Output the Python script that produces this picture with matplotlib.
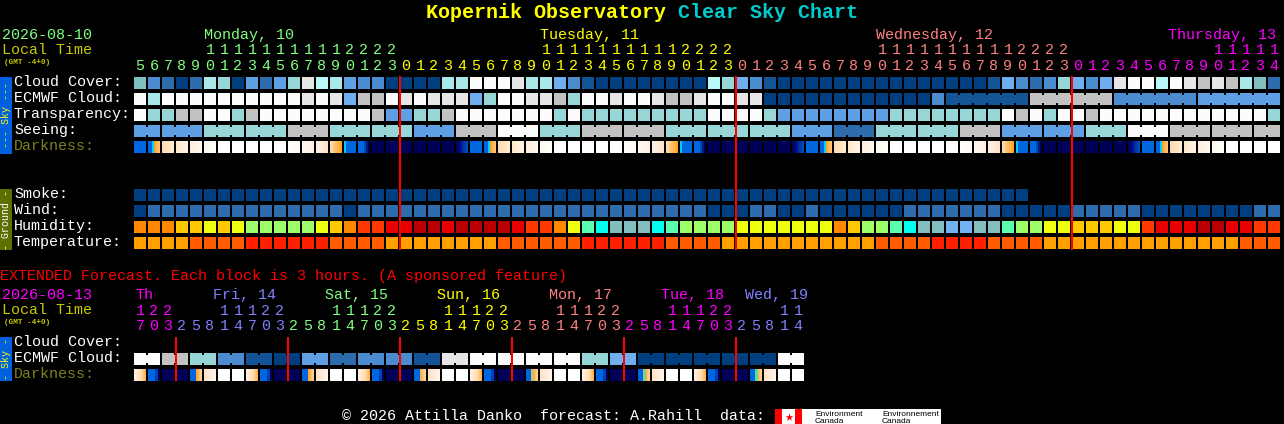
import numpy as np
import matplotlib
matplotlib.use("Agg")
import matplotlib.pyplot as plt
from matplotlib.colors import to_rgb

W, H = 1284, 424
FONT = "Liberation Mono"

# ---------- data ----------
start_hour = 5
n_cols = 82
hours = [(start_hour + i) % 24 for i in range(n_cols)]
day_names = ["Monday, 10", "Tuesday, 11", "Wednesday, 12", "Thursday, 13"]
cloud_cover = "MDCACHGAECEGKIHEDDA" + "AAAHHLLLKHHFDBAAAAAAAAIG" + "FDBAAAAAAAAAAAAAAABFDCDG" + "FDFKLLILKJKJHMC"
ecmwf_cloud = ("LHLLLLLLLLLLKLKFJJLKLKKKFGLLKKJGLLKLLKJJKLLKK" + "AAAAAAAAAAAA" + "D" + "BBBBBB" + "JJJJJJ"
               + "DDDDDD" + "EEEEEE")
transparency = ("LGGJJLLGJLLLLLLLLJEEGGJLLLLLLLGLGGGGGGGGGLLLLG" + "EEEEEEEE" + "GGGGGGGG" + "LJLGLLJ"
                + "LLLLLLLLLLLLG")
seeing_groups = [(2, "E"), (3, "E"), (3, "G"), (3, "G"), (3, "J"), (3, "G"), (3, "G"), (3, "E"), (3, "J"), (3, "L"),
                 (3, "G"), (3, "J"), (3, "J"), (3, "G"), (3, "G"), (3, "G"), (3, "E"), (3, "C"), (3, "G"), (3, "G"),
                 (3, "J"), (3, "E"), (3, "E"), (3, "G"), (3, "L"), (3, "J"), (3, "J"), (2, "J")]
darkness = ("Bc1234WWWWW5678df" + "NNNNNN" + "aBc1234" + "WWWWW5678df" + "NNNNNN" + "aBc1234" + "WWWWW5678df"
            + "NNNNNN" + "aBc1234" + "WWWW")
ecmwf_runs = [(58, 64), (64, 70), (70, 76), (76, 82)]
smoke = "A" * 64
wind = "A" + "C" * 14 + "A" + "C" * 25 + "AAA" + "CC" + "AA" + "C" + "A" * 6 + "C" * 7 + "A" * 5 + "C" * 5 + "A" * 8 + "CC"
humidity = ("OOOYYLYL" + "GGGGG" + "LYORREE" + "DD" + "E" + "DDDD" + "E" + "RR" + "OLMC" + "TTT" + "CM" + "GGGG"
            + "LLLLLLL" + "OY" + "GGMC" + "TTBBTT" + "MGG" + "LL" + "YYY" + "LL" + "REEE" + "DD" + "EE" + "RR")
temperature = ("AAAA" + "BBBB" + "CCCCCC" + "BBBB" + "AAAAAAAA" + "BBBBBB" + "CCCCCC" + "BBBB" + "AAAAAAAAAAA"
               + "BBBB" + "CCCC" + "BBBB" + "AAAAAAAAAAAAAA" + "BBB")
for _s in (cloud_cover, ecmwf_cloud, transparency, darkness, wind, humidity, temperature):
    assert len(_s) == n_cols, (_s, len(_s))

ext_hours = [(17 + 3 * i) % 24 for i in range(48)]
ext_day_names = ["Th", "Fri, 14", "Sat, 15", "Sun, 16", "Mon, 17", "Tue, 18", "Wed, 19"]
ext_cloud_pairs = "LJGDBAECDDBKLLLLGFAAAAAL"
ext_darkness = ("EFNNMGWW" + "EFNNMGWW" + "EFNNKGWW" + "EFNNQGWW" + "EFNNUGWW" + "EFNNVGWW")

# ---------- styles ----------
BG = "#000000"
SKY = {"A": "#003F7F", "B": "#135496", "C": "#2C6CAC", "D": "#4B8BD0", "E": "#5F9FE3", "F": "#6FAFEF",
       "G": "#96D6D6", "H": "#A8E8E8", "I": "#B8F8F8", "J": "#C2C2C2", "K": "#E6E6E6", "L": "#FCFCFC",
       "M": "#7FBFBF"}
HUM = {"O": "#FF8800", "Y": "#FFC800", "L": "#EEFF10", "G": "#9CFF6A", "M": "#5CFFB0", "C": "#00FFEE",
       "T": "#82BEBE", "B": "#72B2F2", "R": "#FF3800", "E": "#E80000", "D": "#B80000"}
TEMP = {"A": "#FFA000", "B": "#FF5C00", "C": "#FF2000"}
DAY_COL = ["#80FF80", "#FFFF00", "#FF8080", "#FF00FF", "#8080FF"]
BLUE = "#0066E0"
NAVY = "#000058"
# darkness gradient stops (position 0..1 in a block, colour); doubled positions are hard edges
DARK = {
    "N": [(0, NAVY), (1, NAVY)],
    "W": [(0, "#FFFFFF"), (1, "#FFFFFF")],
    "B": [(0, BLUE), (1, BLUE)],
    "a": [(0, NAVY), (.33, "#000880"), (.6, "#0030A0"), (1, "#0050C8")],
    "c": [(0, BLUE), (.33, BLUE), (.33, "#00CCFF"), (.5, "#00CCFF"), (.5, "#FFA020"), (1, "#FFC880")],
    "1": [(0, "#FFD8A8"), (1, "#FFEFD8")],
    "2": [(0, "#FFE8CC"), (1, "#FFF6EC")],
    "3": [(0, "#FFEEDD"), (1, "#FFF9F2")],
    "4": [(0, "#FFF6EE"), (1, "#FFFFFF")],
    "5": [(0, "#FFFEFC"), (1, "#FFF8F0")],
    "6": [(0, "#FFF8F0"), (1, "#FFF0E4")],
    "7": [(0, "#FFF0E4"), (1, "#FFE2C4")],
    "8": [(0, "#FFDDB0"), (1, "#FFA020")],
    "d": [(0, "#00CCFF"), (.17, "#00CCFF"), (.17, BLUE), (1, BLUE)],
    "f": [(0, BLUE), (.5, BLUE), (.5, "#0044B0"), (.67, "#0044B0"), (.67, "#002080"), (.83, "#002080"),
          (.83, "#000060"), (1, "#000060")],
    "E": [(0, "#FFF2E4"), (.6, "#FFDDB4"), (1, "#FFB040")],
    "F": [(0, BLUE), (.6, BLUE), (.6, "#0040B0"), (.8, "#0040B0"), (.8, "#000060"), (1, "#000060")],
    "G": [(0, "#FFE0C0"), (1, "#FFF6EE")],
    "M": [(0, BLUE), (.5, BLUE), (.5, "#FFA020"), (1, "#FFD8A8")],
    "K": [(0, BLUE), (.5, BLUE), (.5, "#F0B040"), (1, "#FFD8A8")],
    "Q": [(0, BLUE), (.42, BLUE), (.42, "#D0C060"), (.67, "#D0C060"), (.67, "#FFB040"), (1, "#FFD8A8")],
    "U": [(0, BLUE), (.42, BLUE), (.42, "#80D090"), (.67, "#80D090"), (.67, "#FFB040"), (1, "#FFD8A8")],
    "V": [(0, BLUE), (.42, BLUE), (.42, "#50E0A0"), (.67, "#50E0A0"), (.67, "#FFB040"), (1, "#FFD8A8")],
}

COL_PX, ROW_PX, BLOCK_PX, JOIN_PX = 14, 16, 12, 8
BW = BLOCK_PX / COL_PX
BH = BLOCK_PX / ROW_PX
JH = JOIN_PX / ROW_PX
LINE_W = 2 / COL_PX

# ---------- figure ----------
fig = plt.figure(figsize=(W / 100, H / 100), dpi=100, facecolor=BG)
page = fig.add_axes([0, 0, 1, 1], facecolor=BG)
page.set_xlim(0, W)
page.set_ylim(H, 0)
page.axis("off")


def panel(top_px, bottom_px, left_px=134):
    a = fig.add_axes([left_px / W, 1 - bottom_px / H, (W - left_px) / W, (bottom_px - top_px) / H])
    a.set_xlim(0, (W - left_px) / COL_PX)
    a.set_ylim((bottom_px - top_px) / ROW_PX, 0)
    a.axis("off")
    a.patch.set_alpha(0)
    return a


main = panel(76, 254)
ext = panel(337, 385)
MAIN_TOP = 1 / ROW_PX   # first block row sits one pixel below the panel top


def blocks(a, row, codes, pal):
    a.bar(np.arange(len(codes)), BH, bottom=row, width=BW, align="edge", color=[pal[c] for c in codes], linewidth=0)


def joins(a, row, codes, pal, first, last):
    """connecting neck between two neighbouring blocks of one forecast group"""
    xs = np.arange(first, last - 1)
    a.bar(xs + BW, JH, bottom=row + (BH - JH) / 2, width=1 - BW, align="edge",
          color=[pal[codes[i]] for i in xs], linewidth=0)


def dark_blocks(a, row, codes):
    px = (np.arange(BLOCK_PX) + .5) / BLOCK_PX
    xs, cols = [], []
    for i, c in enumerate(codes):
        stops = DARK[c]
        t = np.array([s[0] for s in stops]) + np.arange(len(stops)) * 1e-6
        rgb = np.array([to_rgb(s[1]) for s in stops])
        for k, p in enumerate(px):
            xs.append(i + k / COL_PX)
            cols.append([np.interp(p, t, rgb[:, j]) for j in range(3)])
    a.bar(xs, BH, bottom=row, width=1 / COL_PX, align="edge", color=cols, linewidth=0, antialiased=False)


# main panel
seeing = "".join(c * n for n, c in seeing_groups)
blocks(main, MAIN_TOP + 0, cloud_cover, SKY)
blocks(main, MAIN_TOP + 1, ecmwf_cloud, SKY)
for f, l in ecmwf_runs:
    joins(main, MAIN_TOP + 1, ecmwf_cloud, SKY, f, l)
blocks(main, MAIN_TOP + 2, transparency, SKY)
blocks(main, MAIN_TOP + 3, seeing, SKY)
pos = 0
for n, c in seeing_groups:
    joins(main, MAIN_TOP + 3, seeing, SKY, pos, pos + n)
    pos += n
dark_blocks(main, MAIN_TOP + 4, darkness)
blocks(main, MAIN_TOP + 7, smoke, SKY)
blocks(main, MAIN_TOP + 8, wind, SKY)
blocks(main, MAIN_TOP + 9, humidity, HUM)
blocks(main, MAIN_TOP + 10, temperature, TEMP)
midnights = [i for i, h in enumerate(hours) if h == 0]
main.bar(midnights, 174 / ROW_PX, bottom=0, width=LINE_W, color="#FF0000", linewidth=0, zorder=5, antialiased=False)

# extended panel
pair_x = np.arange(len(ext_cloud_pairs)) * 2
pair_cols = [SKY[c] for c in ext_cloud_pairs]
ext.bar(pair_x, BH, bottom=1, width=BW, align="edge", color=pair_cols, linewidth=0)
ext.bar(pair_x + 1, BH, bottom=1, width=BW, align="edge", color=pair_cols, linewidth=0)
ext.bar(pair_x + BW, JH, bottom=1 + (BH - JH) / 2, width=1 - BW, align="edge", color=pair_cols, linewidth=0)
dark_blocks(ext, 2, ext_darkness)
ext_midn = [i for i, h in enumerate(ext_hours) if h == 2]
ext.bar(ext_midn, 44 / ROW_PX, bottom=0, width=LINE_W, color="#FF0000", linewidth=0, zorder=5, antialiased=False)


def txt(x, y, s, color="#FFFFFF", size=10.8, **kw):
    page.text(x, y, s, color=color, fontsize=size, family=FONT, va="baseline", ha=kw.pop("ha", "left"), **kw)


# title
txt(426, 18, "Kopernik Observatory", "#FFFF00", 14.4, fontweight="bold")
txt(678, 18, "Clear Sky Chart", "#00CCCC", 14.4, fontweight="bold")

# main header
txt(2, 39, "2026-08-10", DAY_COL[0])
txt(2, 54, "Local Time", "#C8C800")
txt(4, 64, "(GMT -4+0)", "#C8C800", 5.5, fontweight="bold")
for name, x, c in zip(day_names, (204, 540, 876, 1168), DAY_COL):
    txt(x, 39, name, c)
day = 0
for i, h in enumerate(hours):
    if h == 0 and i > 0:
        day += 1
    cx = i + BW / 2
    main.text(cx, -6 / ROW_PX, str(h % 10), color=DAY_COL[day], fontsize=10.8, family=FONT, ha="center", va="baseline")
    if h >= 10:
        main.text(cx, -22 / ROW_PX, str(h // 10), color=DAY_COL[day], fontsize=10.8, family=FONT, ha="center",
                  va="baseline")

# row labels
for y, s, c in [(86, "Cloud Cover:", "#FFFFFF"), (102, "ECMWF Cloud:", "#FFFFFF"), (118, "Transparency:", "#FFFFFF"),
                (134, "Seeing:", "#FFFFFF"), (150, "Darkness:", "#808020"), (198, "Smoke:", "#FFFFFF"),
                (214, "Wind:", "#FFFFFF"), (230, "Humidity:", "#FFFFFF"), (246, "Temperature:", "#FFFFFF"),
                (346, "Cloud Cover:", "#FFFFFF"), (362, "ECMWF Cloud:", "#FFFFFF"), (378, "Darkness:", "#808020")]:
    txt(14, y, s, c)

# side bars
for y0, y1, c, s, tc in [(77, 154, "#0060E0", "--- Sky ---", "#FFFF00"), (189, 250, "#5C7000", "- Ground -", "#FFFFFF"),
                         (337, 381, "#0060E0", "- Sky -", "#FFFF00")]:
    page.fill_between([0, 12], y0, y1, color=c, linewidth=0)
    page.text(6, (y0 + y1) / 2, s, color=tc, fontsize=7.2, family=FONT, rotation=90, ha="center", va="center")

# extended
txt(0, 280, "EXTENDED Forecast. Each block is 3 hours. (A sponsored feature)", "#FF0000")
txt(2, 299, "2026-08-13", "#FF00FF")
txt(2, 314, "Local Time", "#C8C800")
txt(4, 324, "(GMT -4+0)", "#C8C800", 5.5, fontweight="bold")
ext_cols = ["#FF00FF", "#8080FF", "#80FF80", "#FFFF00", "#FF8080", "#FF00FF", "#8080FF"]
for name, x, c in zip(ext_day_names, (135, 213, 325, 437, 549, 661, 745), ext_cols):
    txt(x, 299, name, c)
d = 0
for i, h in enumerate(ext_hours):
    if i > 0 and h < ext_hours[i - 1]:
        d += 1
    cx = i + BW / 2
    ext.text(cx, -7 / ROW_PX, str(h % 10), color=ext_cols[d], fontsize=10.8, family=FONT, ha="center", va="baseline")
    if h >= 10:
        ext.text(cx, -22 / ROW_PX, str(h // 10), color=ext_cols[d], fontsize=10.8, family=FONT, ha="center",
                 va="baseline")

# footer
txt(342, 420, "\u00a9 2026 Attilla Danko  forecast: A.Rahill  data:")
page.fill_between([775, 941], 409, 424, color="#FFFFFF", linewidth=0)
page.fill_between([775, 782], 409, 424, color="#FF0000", linewidth=0)
page.fill_between([795, 802], 409, 424, color="#FF0000", linewidth=0)
page.scatter([788.5], [416.5], s=34, marker="*", color="#FF0000", linewidths=0)
for x, a, b in [(815, "Environment", "Canada"), (882, "Environnement", "Canada")]:
    page.text(x, 415.5, a, color="#000000", fontsize=6.0, family="Liberation Sans", va="baseline")
    page.text(x, 423, b, color="#000000", fontsize=6.0, family="Liberation Sans", va="baseline")

fig.savefig("out.png", dpi=100, facecolor=BG)
